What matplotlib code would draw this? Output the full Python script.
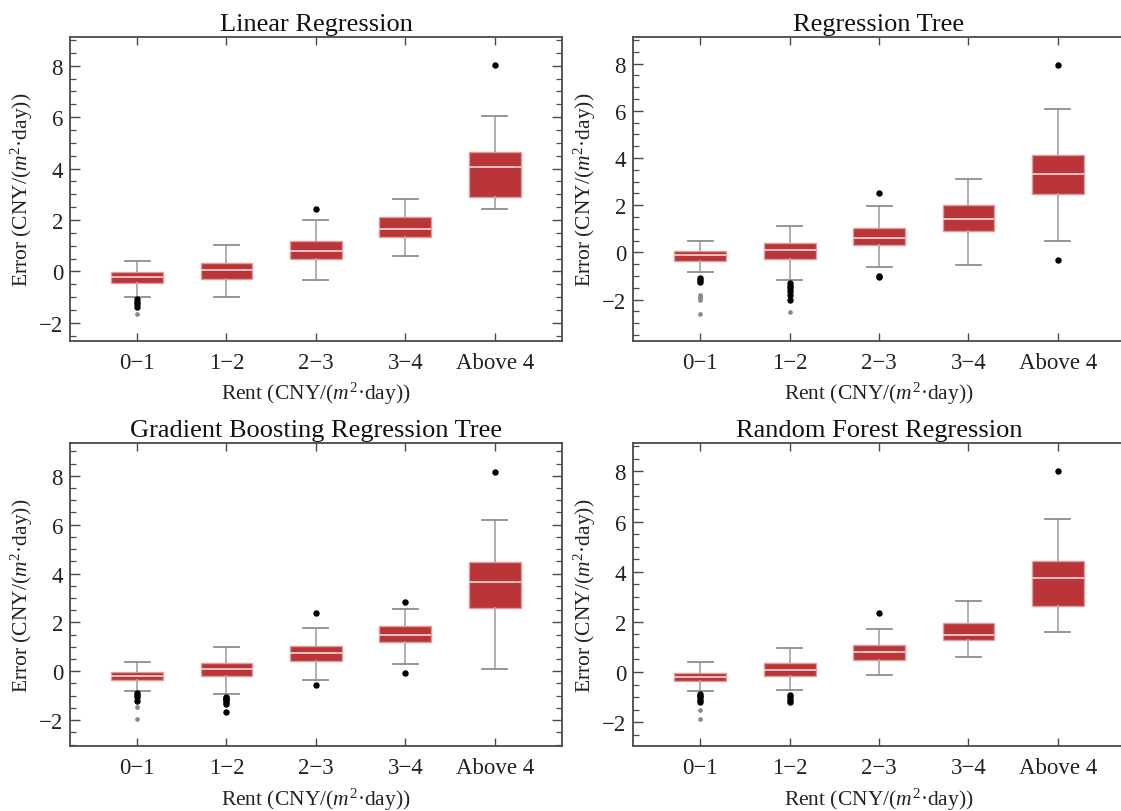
import matplotlib
matplotlib.use("Agg")
import matplotlib.pyplot as plt
from matplotlib.ticker import MultipleLocator, FixedLocator

plt.rcParams['font.family'] = ['Liberation Serif', 'DejaVu Serif']
plt.rcParams['mathtext.fontset'] = 'custom'
plt.rcParams['mathtext.rm'] = 'Liberation Serif'
plt.rcParams['mathtext.it'] = 'Liberation Serif:italic'

categories = ["0\u22121", "1\u22122", "2\u22123", "3\u22124", "Above 4"]
titles = ["Linear Regression", "Regression Tree",
          "Gradient Boosting Regression Tree", "Random Forest Regression"]

# Linear Regression
lr_lo = [-1.00, -1.01, -0.32, 0.61, 2.41]
lr_q1 = [-0.45, -0.285, 0.49, 1.32, 2.88]
lr_med = [-0.23, 0.05, 0.78, 1.66, 4.07]
lr_q3 = [-0.04, 0.31, 1.17, 2.13, 4.64]
lr_hi = [0.415, 1.02, 2.01, 2.80, 6.04]
lr_near = [[-1.09, -1.18, -1.28, -1.39], [], [2.41], [], [8.03]]
lr_far = [[-1.66], [], [], [], []]

# Regression Tree
rt_lo = [-0.85, -1.16, -0.62, -0.52, 0.48]
rt_q1 = [-0.37, -0.27, 0.31, 0.91, 2.48]
rt_med = [-0.13, 0.085, 0.62, 1.40, 3.34]
rt_q3 = [0.07, 0.38, 1.05, 2.01, 4.14]
rt_hi = [0.50, 1.13, 1.98, 3.12, 6.08]
rt_near = [[-1.10, -1.16, -1.25], [-1.29, -1.43, -1.53, -1.63, -1.83, -2.04],
           [2.52, -1.01, -1.05], [], [7.96, -0.33]]
rt_far = [[-1.81, -1.88, -1.95, -2.02, -2.62], [-2.55], [], [], []]

# Gradient Boosting Regression Tree
gb_lo = [-0.82, -0.93, -0.34, 0.29, 0.11]
gb_q1 = [-0.35, -0.19, 0.41, 1.20, 2.57]
gb_med = [-0.18, 0.11, 0.74, 1.47, 3.65]
gb_q3 = [-0.03, 0.35, 1.04, 1.87, 4.47]
gb_hi = [0.37, 0.98, 1.76, 2.56, 6.20]
gb_near = [[-0.90, -0.97, -1.04, -1.21], [-1.04, -1.10, -1.14, -1.19, -1.24, -1.35, -1.68],
           [2.37, -0.57], [2.82, -0.08], [8.17]]
gb_far = [[-1.46, -1.95], [], [], [], []]

# Random Forest Regression
rf_lo = [-0.77, -0.72, -0.12, 0.61, 1.61]
rf_q1 = [-0.36, -0.16, 0.48, 1.28, 2.62]
rf_med = [-0.19, 0.09, 0.81, 1.48, 3.75]
rf_q3 = [-0.03, 0.35, 1.06, 1.95, 4.41]
rf_hi = [0.40, 0.97, 1.70, 2.84, 6.09]
rf_near = [[-0.88, -0.94, -1.01, -1.10, -1.21], [-0.92, -1.01, -1.10, -1.21], [2.34], [], [8.00]]
rf_far = [[-1.51, -1.87], [], [], [], []]

models = [
    (lr_lo, lr_q1, lr_med, lr_q3, lr_hi, lr_near, lr_far),
    (rt_lo, rt_q1, rt_med, rt_q3, rt_hi, rt_near, rt_far),
    (gb_lo, gb_q1, gb_med, gb_q3, gb_hi, gb_near, gb_far),
    (rf_lo, rf_q1, rf_med, rf_q3, rf_hi, rf_near, rf_far),
]
ylims = [(-2.71, 9.12), (-3.76, 9.13), (-3.07, 9.34), (-2.96, 9.13)]
rects = [[0.0624, 0.5788, 0.4389, 0.3744], [0.5647, 0.5788, 0.4389, 0.3744],
         [0.0624, 0.0797, 0.4389, 0.3735], [0.5647, 0.0797, 0.4389, 0.3735]]
right_side = [True, False, True, False]

BOX = '#B93537'
EDGE = '#E29A9A'
MED = '#F2CCCC'
WHISK = '#A9A9A9'
CAP = '#8E8E8E'
FRAME = '#4A4A4A'

fig = plt.figure(figsize=(11.21, 8.12), dpi=100)
label = "Rent (CNY/($m^2$\u00b7day))"
ylabel = "Error (CNY/($m^2$\u00b7day))"

for title, data, yl, rect, rs in zip(titles, models, ylims, rects, right_side):
    ax = fig.add_axes(rect)
    lo, q1, med, q3, hi, near, far = data
    stats = []
    for i in range(len(categories)):
        stats.append(dict(whislo=lo[i], q1=q1[i], med=med[i], q3=q3[i],
                          whishi=hi[i], fliers=near[i]))
    pos = list(range(1, len(categories) + 1))
    ax.bxp(stats, positions=pos, widths=0.58, capwidths=0.28, patch_artist=True,
           showfliers=True,
           boxprops=dict(facecolor=BOX, edgecolor=EDGE, linewidth=1.0),
           medianprops=dict(color=MED, linewidth=1.3),
           whiskerprops=dict(color=WHISK, linewidth=1.3),
           capprops=dict(color=CAP, linewidth=1.3),
           flierprops=dict(marker='o', markersize=3.6, markerfacecolor='black',
                           markeredgecolor='black', linestyle='none'))
    for i, f in enumerate(far):
        if f:
            ax.plot([pos[i]] * len(f), f, 'o', color='#8A8A8A', markersize=3.4,
                    markeredgewidth=0, zorder=3)
    ax.set_xlim(0.25, 5.75)
    ax.set_ylim(*yl)
    ax.xaxis.set_major_locator(FixedLocator(pos))
    ax.set_xticklabels(categories, fontsize=16.5, color='#222222')
    ax.yaxis.set_major_locator(MultipleLocator(2))
    ax.yaxis.set_minor_locator(MultipleLocator(0.5))
    ax.tick_params(axis='y', which='major', direction='in', length=7, width=1.0,
                   color=FRAME, labelsize=16.5, labelcolor='#222222', right=rs, pad=5)
    ax.tick_params(axis='y', which='minor', direction='in', length=4, width=0.9,
                   color=FRAME, right=rs)
    ax.tick_params(axis='x', which='major', direction='in', length=6, width=1.0,
                   color=FRAME, top=True, pad=8)
    for s in ax.spines.values():
        s.set_color(FRAME)
        s.set_linewidth(1.3)
    if not rs:
        ax.spines['right'].set_visible(False)
    ax.set_title(title, fontsize=19, pad=5, color='#111111')
    ax.set_xlabel(label, fontsize=15.5, labelpad=5, color='#222222')
    ax.set_ylabel(ylabel, fontsize=15.5, labelpad=3, color='#222222')

fig.savefig("out.png", dpi=100)
